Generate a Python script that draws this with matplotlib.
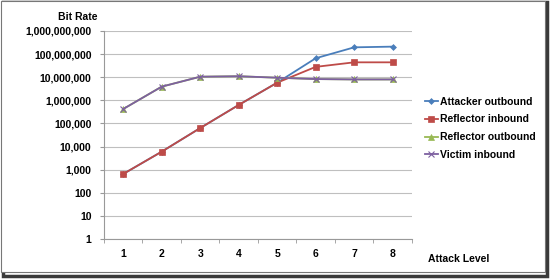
import matplotlib
matplotlib.use("Agg")
import matplotlib.pyplot as plt
from matplotlib.patches import Rectangle
from matplotlib.ticker import FuncFormatter, FixedLocator

plt.rcParams['font.family'] = ['Liberation Sans', 'DejaVu Sans']

levels = [1, 2, 3, 4, 5, 6, 7, 8]
attacker_out = [650, 6000, 63000, 630000, 5800000, 66000000, 196000000, 210000000]
reflector_in = [650, 6000, 63000, 630000, 5800000, 28000000, 44000000, 44000000]
reflector_out = [420000, 3900000, 10500000, 11000000, 9500000, 8300000, 8000000, 8000000]
victim_in = [420000, 3900000, 10500000, 11000000, 9500000, 8300000, 8000000, 8000000]

fig = plt.figure(figsize=(5.5, 2.79), dpi=100)

# outer frame with shadow
fig.patches.append(Rectangle((0.006, 0.012), 0.988, 0.982, transform=fig.transFigure,
                             facecolor='none', edgecolor='#3a3a3a', linewidth=2.5, zorder=-2))
fig.patches.append(Rectangle((0.002, 0.025), 0.988, 0.972, transform=fig.transFigure,
                             facecolor='white', edgecolor='#777777', linewidth=0.8, zorder=-1))

ax = fig.add_axes([0.189, 0.1434, 0.56, 0.7456])
ax.set_facecolor('none')

series = [
    ("Attacker outbound", attacker_out, '#4a7ebb', 'D', 3),
    ("Reflector inbound", reflector_in, '#be4b48', 's', 4),
    ("Reflector outbound", reflector_out, '#98b954', '^', 4),
    ("Victim inbound", victim_in, '#7d60a0', 'x', 4),
]
for name, vals, col, mk, ms in series:
    ax.plot(levels, vals, color=col, marker=mk, markersize=ms, linewidth=1.3,
            markeredgewidth=0.8 if mk == 'x' else 0.5, label=name)

ax.set_yscale('log')
ax.set_ylim(1, 1e9)
ax.set_xlim(0.5, 8.5)
ax.yaxis.set_major_locator(FixedLocator([10 ** i for i in range(10)]))
ax.yaxis.set_minor_locator(FixedLocator([]))
ax.yaxis.set_major_formatter(FuncFormatter(lambda v, p: f"{int(round(v)):,}"))
ax.set_xticks(levels)
ax.set_xticks([x + 0.5 for x in range(0, 9)], minor=True)
ax.tick_params(axis='x', which='major', length=0, pad=7)
ax.tick_params(axis='x', which='minor', length=3, color='#999999', direction='out')
ax.tick_params(axis='y', which='major', length=3, color='#999999', pad=6)
for lab in ax.get_xticklabels() + ax.get_yticklabels():
    lab.set_fontsize(7.5)
    lab.set_fontweight('bold')

ax.grid(axis='y', color='#bfbfbf', linewidth=0.8)
ax.set_axisbelow(True)
for s in ['top', 'right']:
    ax.spines[s].set_visible(False)
for s in ['left', 'bottom']:
    ax.spines[s].set_color('#999999')
    ax.spines[s].set_linewidth(0.8)

fig.text(0.105, 0.93, "Bit Rate", fontsize=7.5, fontweight='bold')
fig.text(0.778, 0.06, "Attack Level", fontsize=7.5, fontweight='bold')

leg = fig.legend(loc='center left', bbox_to_anchor=(0.755, 0.54), frameon=False,
                 prop={'size': 7.5, 'weight': 'bold'}, handlelength=1.3,
                 handletextpad=0.2, labelspacing=0.75)

fig.savefig("out.png", dpi=100)
